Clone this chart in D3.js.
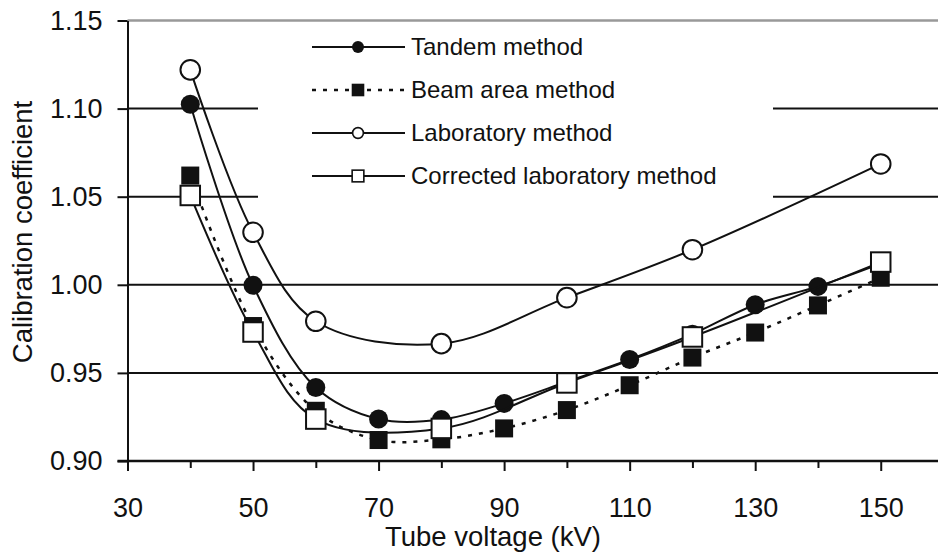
<!DOCTYPE html>
<html><head><meta charset="utf-8">
<script src="https://cdn.jsdelivr.net/npm/d3@7"></script>
<style>body{margin:0;background:#fff}svg{display:block;font-family:"Liberation Sans",Arial,sans-serif}</style>
</head><body><svg id="c" width="938" height="553"></svg>
<script>
const xFull = [40,50,60,70,80,90,100,110,120,130,140,150];
const xLab = [40,50,60,80,100,120,150];
const tandem = [1.1025,0.9997,0.9417,0.9238,0.9235,0.9327,0.945,0.9576,0.972,0.9887,0.9991,1.012];
const beam = [1.062,0.9766,0.9285,0.9119,0.9123,0.9185,0.9289,0.943,0.9587,0.9729,0.9883,1.004];
const lab = [1.122,1.0298,0.9793,0.9666,0.9927,1.0199,1.0686];
const corrected = [1.0507,0.9732,0.9238,0.9185,0.9443,0.9704,1.0129];
const seriesNames = ["Tandem method","Beam area method","Laboratory method","Corrected laboratory method"];
const yTicks = [0.90,0.95,1.00,1.05,1.10,1.15];
const xTickLabels = [30,50,70,90,110,130,150];
const xTitle = "Tube voltage (kV)";
const yTitle = "Calibration coefficient";

const svg = d3.select("#c");
const x = d3.scaleLinear().domain([30,160]).range([127.5,943.5]);
const y = d3.scaleLinear().domain([0.90,1.15]).range([461,20.5]);

// gridlines
const lgX0 = 258, lgX1 = 773, lgY1 = 215;
yTicks.forEach(v=>{
  if (v===0.90) return;
  const yy = y(v);
  if (v===1.15) {
    svg.append("line").attr("x1",x(30)).attr("x2",938).attr("y1",yy).attr("y2",yy).attr("stroke","#999").attr("stroke-width",2.5);
  } else if (yy < lgY1) {
    svg.append("line").attr("x1",x(30)).attr("x2",lgX0).attr("y1",yy).attr("y2",yy).attr("stroke","#111").attr("stroke-width",2);
    svg.append("line").attr("x1",lgX1).attr("x2",938).attr("y1",yy).attr("y2",yy).attr("stroke","#111").attr("stroke-width",2);
  } else {
    svg.append("line").attr("x1",x(30)).attr("x2",938).attr("y1",yy).attr("y2",yy).attr("stroke","#111").attr("stroke-width",2);
  }
});

// axes
const yAxis = d3.axisLeft(y).tickValues(yTicks).tickFormat(d3.format(".2f")).tickSize(10).tickSizeOuter(0);
const gy = svg.append("g").attr("transform",`translate(${x(30)},0)`).call(yAxis);
gy.select(".domain").attr("stroke","#111").attr("stroke-width",2);
gy.selectAll(".tick line").attr("stroke","#111").attr("stroke-width",2);
gy.selectAll(".tick text").attr("font-size",27).attr("fill","#111").attr("x",-25).attr("font-family","Liberation Sans, Arial, sans-serif");

const xAxis = d3.axisBottom(x).tickValues(d3.range(30,161,10)).tickFormat(d=> xTickLabels.includes(d)? d : "").tickSize(10).tickSizeOuter(0);
const gx = svg.append("g").attr("transform",`translate(0,${y(0.90)})`).call(xAxis);
gx.select(".domain").attr("stroke","#111").attr("stroke-width",2.5).attr("d",`M${x(30)-10},0H938`);
gx.selectAll(".tick line").attr("stroke","#111").attr("stroke-width",2).attr("y2",d=> xTickLabels.includes(d)?10:7);
gx.selectAll(".tick text").attr("font-size",27).attr("fill","#111").attr("y",37).attr("font-family","Liberation Sans, Arial, sans-serif");

svg.append("text").attr("x",493).attr("y",546).attr("text-anchor","middle").attr("font-size",27.5).attr("fill","#111").text(xTitle);
svg.append("text").attr("transform","translate(32,232) rotate(-90)").attr("text-anchor","middle").attr("font-size",27.5).attr("fill","#111").text(yTitle);

// legend background
svg.append("rect").attr("x",lgX0).attr("y",24).attr("width",lgX1-lgX0).attr("height",lgY1-24).attr("fill","#fff");

const curve = d3.curveCatmullRom.alpha(0.5);
const line = d3.line().x(d=>x(d[0])).y(d=>y(d[1])).curve(curve);

function drawSeries(xs, ys, dash, marker){
  const pts = xs.map((v,i)=>[v,ys[i]]);
  svg.append("path").attr("d",line(pts)).attr("fill","none").attr("stroke","#111").attr("stroke-width",dash?2.5:2).attr("stroke-dasharray",dash?"4,7":null);
  pts.forEach(p=>marker(svg,x(p[0]),y(p[1]),1));
}
function mFilledCircle(g,cx,cy,s){ g.append("circle").attr("cx",cx).attr("cy",cy).attr("r",9.5*s).attr("fill","#111"); }
function mFilledSquare(g,cx,cy,s){ const a=18*s; g.append("rect").attr("x",cx-a/2).attr("y",cy-a/2).attr("width",a).attr("height",a).attr("fill","#111"); }
function mOpenCircle(g,cx,cy,s){ g.append("circle").attr("cx",cx).attr("cy",cy).attr("r",9.8*s).attr("fill","#fff").attr("stroke","#111").attr("stroke-width",2*Math.max(s,0.8)); }
function mOpenSquare(g,cx,cy,s){ const a=19.5*s; g.append("rect").attr("x",cx-a/2).attr("y",cy-a/2).attr("width",a).attr("height",a).attr("fill","#fff").attr("stroke","#111").attr("stroke-width",2*Math.max(s,0.8)); }

drawSeries(xFull, tandem, false, mFilledCircle);
drawSeries(xFull, beam, true, mFilledSquare);
drawSeries(xLab, lab, false, mOpenCircle);
drawSeries(xLab, corrected, false, mOpenSquare);

// legend
const markers = [mFilledCircle,mFilledSquare,mOpenCircle,mOpenSquare];
const legendScale = [0.63,0.7,0.55,0.6];
const rowsY = [47,90,133,176];
seriesNames.forEach((n,i)=>{
  const yy = rowsY[i];
  svg.append("line").attr("x1",312).attr("x2",405).attr("y1",yy).attr("y2",yy).attr("stroke","#111").attr("stroke-width",i===1?2.5:2).attr("stroke-dasharray",i===1?"4,7":null);
  markers[i](svg,358,yy,legendScale[i]);
  svg.append("text").attr("x",411).attr("y",yy).attr("dy","0.35em").attr("font-size",24).attr("fill","#111").text(n);
});
</script></body></html>
